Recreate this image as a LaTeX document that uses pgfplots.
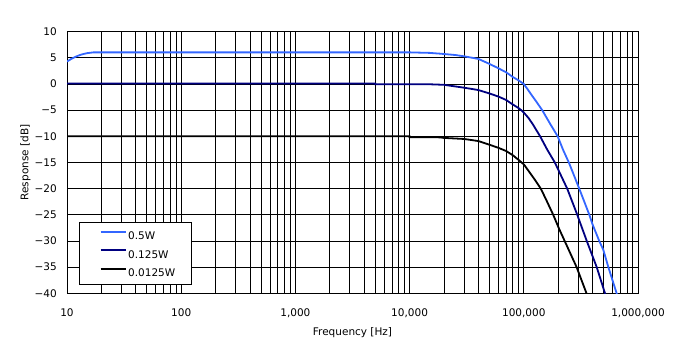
\documentclass[border=0pt]{standalone}
\usepackage{fontspec}
\setmainfont{DejaVu Sans}
\usepackage{pgfplots}
\pgfplotsset{compat=1.18}
\definecolor{lblue}{RGB}{51,102,255}
\definecolor{navy}{RGB}{0,0,128}
\begin{document}
\fontsize{10.5}{12}\selectfont
\begin{tikzpicture}
\useasboundingbox (0pt,0pt) rectangle (673pt,354pt);
\begin{axis}[
  at={(67pt,60.7pt)}, anchor=south west,
  scale only axis, width=571pt, height=261.6pt,
  xmode=log, log basis x=10,
  xmin=10, xmax=1000000, ymin=-40, ymax=10,
  xtick={10,100,1000,10000,100000,1000000},
  xticklabels={10,100,{1,000},{10,000},{100,000},{1,000,000}},
  minor xtick={20,30,40,50,60,70,80,90,200,300,400,500,600,700,800,900,2000,3000,4000,5000,6000,7000,8000,9000,20000,30000,40000,50000,60000,70000,80000,90000,200000,300000,400000,500000,600000,700000,800000,900000},
  ytick={-40,-35,-30,-25,-20,-15,-10,-5,0,5,10},
  yticklabels={−40,−35,−30,−25,−20,−15,−10,−5,0,5,10},
  grid=both,
  major grid style={black, line width=0.8pt},
  minor grid style={black, line width=0.8pt},
  major tick length=0pt, minor tick length=0pt,
  axis line style={black, line width=0.8pt},
  tick label style={font=\fontsize{10.5}{12}\selectfont},
  xticklabel style={yshift=-11.5pt},
  yticklabel style={xshift=-6.5pt},
  xlabel={Frequency [Hz]},
  ylabel={Response [dB]},
  label style={font=\fontsize{10.5}{12}\selectfont},
  xlabel style={at={(axis description cs:0.5,-0.1632)}, anchor=base},
  ylabel style={at={(axis description cs:-0.0678,0.5)}, anchor=base},
  legend style={at={(0.0215,0.0317)}, anchor=south west, draw=black, fill=white,
    line width=0.8pt, inner xsep=16.5pt, inner ysep=8pt,
    row sep=10pt, column sep=1.7pt,
    nodes={inner sep=0pt, text height=7.7pt, text depth=0pt},
    font=\fontsize{10.5}{12}\selectfont},
  legend cell align=left,
  legend image code/.code={\path (0pt,0pt); \draw[#1, line width=1.8pt] (3.5pt,3.85pt) -- (28.5pt,3.85pt);},
]
\addplot[lblue, line width=1.8pt] coordinates {
(10,4.3) (11,4.85) (12,5.25) (13,5.55) (14,5.75) (15,5.9) (17,6.05) (10000,6.05)
(15000,5.95) (18500,5.8) (25000,5.55) (30000,5.3) (40000,4.8) (50000,3.85)
(60000,3.0) (70000,2.25) (80000,1.35) (90000,0.7) (100000,0.0) (108000,-1.0) (117000,-2.1)
(130000,-3.5) (145000,-5) (170000,-7.6) (198000,-10) (220000,-12.5) (248000,-15) (306000,-20)
(375000,-25) (401000,-26.9) (458000,-30) (497000,-31.7) (550000,-35) (650000,-40)
(700000,-42.5)};
\addlegendentry{0.5W}
\addplot[navy, line width=1.8pt] coordinates {
(10,0.1) (5000,0.1) (5001,-0.05) (15000,-0.05) (20000,-0.15) (30000,-0.7)
(40000,-1.15) (50000,-1.8) (60000,-2.4) (70000,-3.05) (80000,-3.9) (90000,-4.6)
(95000,-5) (100000,-5.45) (110000,-6.5) (120000,-7.7) (139000,-10) (160000,-12.5) (187000,-15) (240000,-20) (294000,-25)
(310000,-26.4) (356000,-30) (435000,-35) (514000,-40) (550000,-42)};
\addlegendentry{0.125W}
\addplot[black, line width=1.8pt] coordinates {
(10,-10) (10000,-10) (10001,-10.15) (15000,-10.15) (18500,-10.2) (20000,-10.3)
(30000,-10.5) (40000,-10.9) (50000,-11.6) (60000,-12.2) (70000,-12.8)
(80000,-13.6) (90000,-14.5) (100000,-15.35) (110000,-16.6) (125000,-18.3) (141000,-20)
(160000,-22.5) (181000,-25) (205000,-27.8) (228000,-30) (290000,-35) (354000,-40) (380000,-42)};
\addlegendentry{0.0125W}
\end{axis}
\end{tikzpicture}
\end{document}
